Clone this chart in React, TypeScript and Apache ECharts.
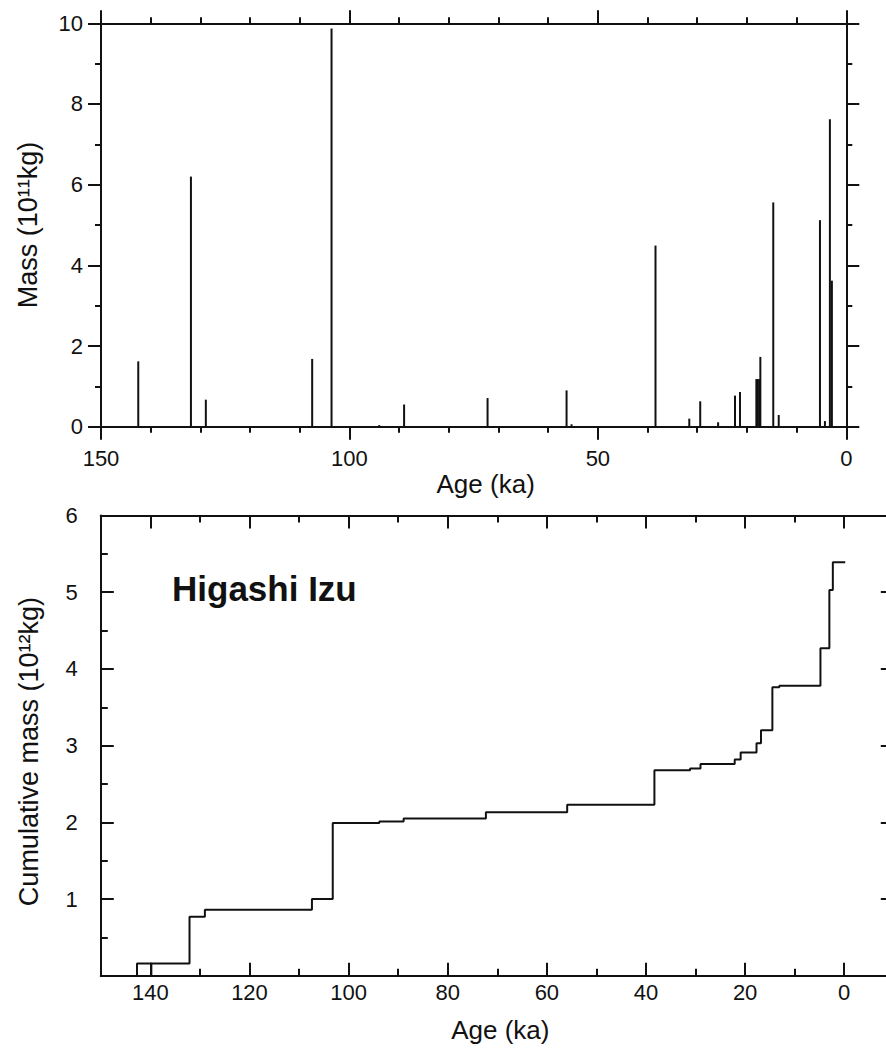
import React, { useEffect, useRef } from "react";
import * as echarts from "echarts";

// ---- Top panel: individual eruption masses (10^11 kg) vs age (ka)
const eruptionAges: number[] = [
  142.5, 131.9, 128.9, 107.5, 103.6, 94.0, 89.0, 72.2, 56.3, 55.3, 38.4, 31.6,
  29.4, 25.8, 22.4, 21.4, 18.1, 17.8, 17.5, 17.3, 14.7, 13.6, 5.3, 4.3, 3.3, 2.9,
];
const eruptionMasses: number[] = [
  1.62, 6.2, 0.67, 1.68, 9.87, 0.04, 0.55, 0.71, 0.9, 0.06, 4.49, 0.2, 0.63,
  0.11, 0.77, 0.86, 1.18, 1.18, 1.18, 1.73, 5.56, 0.29, 5.12, 0.14, 7.62, 3.62,
];

// ---- Bottom panel: cumulative mass (10^12 kg), step corners (age, value)
const cumAges: number[] = [
  142.7, 142.7, 132.1, 129.0, 107.4, 103.2, 93.8, 88.9, 72.3, 55.9, 38.3, 31.1,
  29.0, 22.1, 20.9, 17.7, 16.8, 14.5, 13.1, 4.8, 3.0, 2.3, -0.2,
];
const cumValues: number[] = [
  0, 0.16, 0.77, 0.86, 1.0, 1.99, 2.01, 2.05, 2.13, 2.23, 2.68, 2.7, 2.76, 2.82,
  2.91, 3.03, 3.2, 3.76, 3.78, 4.27, 5.03, 5.39, 5.39,
];
// small extra vertical stroke drawn near 140 ka
const boxAges: number[] = [139.8, 139.8];
const boxValues: number[] = [0, 0.16];

// tick labels
const bottomXMajor: number[] = [0, 20, 40, 60, 80, 100, 120, 140];
const bottomXMinor: number[] = [10, 30, 50, 70, 90, 110, 130];

const FONT = "'Liberation Sans', Arial, Helvetica, sans-serif";
const INK = "#111";

export default function App() {
  const ref = useRef<HTMLDivElement>(null);

  useEffect(() => {
    document.body.style.margin = "0";
    if (!ref.current) return;
    const chart = echarts.init(ref.current, undefined, { renderer: "svg" });

    const line = { show: true, lineStyle: { color: INK, width: 2 } };
    const labelStyle = { color: INK, fontSize: 22, fontFamily: FONT };

    const topGrid = { left: 101, top: 23.3, width: 745.3, height: 403.4, outerBoundsMode: "none", containLabel: false };
    const botGrid = { left: 100.8, top: 515.5, width: 793, height: 460.2, outerBoundsMode: "none", containLabel: false };

    const topX = (position: "bottom" | "top", withLabels: boolean) => ({
      type: "value",
      gridIndex: 0,
      position,
      min: 0,
      max: 150,
      interval: 50,
      inverse: true,
      axisLine: { ...line, onZero: false },
      axisTick: { show: true, inside: false, length: 13, lineStyle: { color: INK, width: 2 } },
      minorTick: { show: true, splitNumber: 5, length: 6, lineStyle: { color: INK, width: 2 } },
      splitLine: { show: false },
      minorSplitLine: { show: false },
      axisLabel: { show: withLabels, margin: 21, ...labelStyle },
      name: withLabels ? "Age (ka)" : "",
      nameLocation: "middle",
      nameGap: 30,
      nameTextStyle: { color: INK, fontSize: 26, fontFamily: FONT, padding: [0, 0, 0, 24] },
    });

    const topY = (position: "left" | "right", withLabels: boolean) => ({
      type: "value",
      gridIndex: 0,
      position,
      min: 0,
      max: 10,
      interval: 2,
      axisLine: { ...line, onZero: false },
      axisTick: { show: true, inside: false, length: 13, lineStyle: { color: INK, width: 2 } },
      minorTick: { show: true, splitNumber: 2, length: 6, lineStyle: { color: INK, width: 2 } },
      splitLine: { show: false },
      minorSplitLine: { show: false },
      axisLabel: { show: withLabels, margin: 18, ...labelStyle },
      name: withLabels ? "Mass (10¹¹kg)" : "",
      nameLocation: "middle",
      nameGap: 60,
      nameTextStyle: { color: INK, fontSize: 27, fontFamily: FONT },
    });

    const botX = (
      position: "bottom" | "top",
      values: number[],
      len: number,
      withLabels: boolean
    ) => ({
      type: "value",
      gridIndex: 1,
      position,
      min: -10,
      max: 150,
      inverse: true,
      axisLine: { ...line, onZero: false },
      axisTick: {
        show: true,
        inside: true,
        length: len,
        customValues: values,
        lineStyle: { color: INK, width: 2 },
      },
      splitLine: { show: false },
      axisLabel: {
        show: withLabels,
        customValues: withLabels ? bottomXMajor : undefined,
        margin: 6,
        ...labelStyle,
      },
      name: withLabels ? "Age (ka)" : "",
      nameLocation: "middle",
      nameGap: 41,
      nameTextStyle: { color: INK, fontSize: 26, fontFamily: FONT, padding: [0, 0, 0, 6] },
    });

    const botY = (position: "left" | "right", withLabels: boolean) => ({
      type: "value",
      gridIndex: 1,
      position,
      min: 0,
      max: 6,
      interval: 1,
      axisLine: { ...line, onZero: false },
      axisTick: { show: true, inside: true, length: 13, lineStyle: { color: INK, width: 2 } },
      minorTick: { show: true, splitNumber: 2, length: 7, lineStyle: { color: INK, width: 2 } },
      splitLine: { show: false },
      minorSplitLine: { show: false },
      axisLabel: {
        show: withLabels,
        margin: 23,
        ...labelStyle,
        formatter: (v: number) => (v === 0 ? "" : String(v)),
      },
      name: withLabels ? "Cumulative mass (10¹²kg)" : "",
      nameLocation: "middle",
      nameGap: 58,
      nameTextStyle: { color: INK, fontSize: 27, fontFamily: FONT, padding: [0, 12, 0, 0] },
    });

    const option = {
      animation: false,
      backgroundColor: "#fff",
      textStyle: { fontFamily: FONT },
      grid: [topGrid, botGrid],
      xAxis: [
        topX("bottom", true),
        topX("top", false),
        botX("bottom", bottomXMajor, 13, true),
        botX("bottom", bottomXMinor, 7, false),
        botX("top", bottomXMajor, 13, false),
        botX("top", bottomXMinor, 7, false),
      ],
      yAxis: [topY("left", true), topY("right", false), botY("left", true), botY("right", false)],
      graphic: [
        {
          type: "text",
          x: 172,
          y: 588,
          style: {
            text: "Higashi Izu",
            fill: INK,
            fontSize: 35,
            fontWeight: "bold",
            fontFamily: FONT,
            textVerticalAlign: "middle",
          },
        },
      ],
      series: [
        {
          type: "bar",
          xAxisIndex: 0,
          yAxisIndex: 0,
          barWidth: 2,
          itemStyle: { color: INK },
          data: eruptionAges.map((a, i) => [a, eruptionMasses[i]]),
        },
        {
          type: "line",
          xAxisIndex: 2,
          yAxisIndex: 2,
          step: "end",
          showSymbol: false,
          symbol: "none",
          lineStyle: { color: INK, width: 2 },
          data: cumAges.map((a, i) => [a, cumValues[i]]),
        },
        {
          type: "line",
          xAxisIndex: 2,
          yAxisIndex: 2,
          showSymbol: false,
          symbol: "none",
          lineStyle: { color: INK, width: 2 },
          data: boxAges.map((a, i) => [a, boxValues[i]]),
        },
      ],
    };

    chart.setOption(option as any);
    return () => chart.dispose();
  }, []);

  return <div ref={ref} style={{ width: 886, height: 1050 }} />;
}
